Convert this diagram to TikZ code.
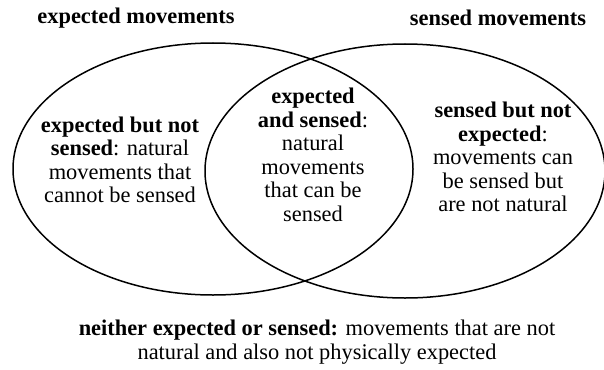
\documentclass[tikz,border=0pt]{standalone}
\usepackage{fontspec}
\setmainfont{Liberation Serif}
\usepackage{tikz}
\usetikzlibrary{shapes.geometric,positioning}
\tikzset{
  setoval/.style={ellipse, draw=black, line width=1.5pt, inner sep=0pt, outer sep=0pt,
                  minimum width=400pt, minimum height=252pt},
  regiontxt/.style={align=center, inner sep=0pt, font=\fontsize{22.4}{23.5}\selectfont},
  settitle/.style={regiontxt, font=\fontsize{22.4}{23.5}\selectfont\bfseries},
}
\begin{document}
\begin{tikzpicture}[x=1pt,y=-1pt]
    \useasboundingbox (0,0) rectangle (604,369);
    % the two sets
    \node[setoval] (expset) at (213,169) {};
    \node[setoval, minimum height=254pt] (senset) at (405,171) {};
    \node[settitle] (exptitle) at (136,18) {expected movements};
    \node[settitle] (sentitle) at (498,18) {sensed movements};
    % regions
    \node[regiontxt] (exponly) at (120,160)
      {\textbf{expected but not}\\\textbf{sensed}: natural\\movements that\\cannot be sensed};
    \node[regiontxt] (both) at (313,155)
      {\textbf{expected}\\\textbf{and sensed}:\\natural\\movements\\that can be\\sensed};
    \node[regiontxt] (senonly) at (503,157)
      {\textbf{sensed but not}\\\textbf{expected}:\\movements can\\be sensed but\\are not natural};
    \node[regiontxt] (neither) at (317,342)
      {\textbf{neither expected or sensed:} movements that are not\\natural and also not physically expected};
\end{tikzpicture}
\end{document}
